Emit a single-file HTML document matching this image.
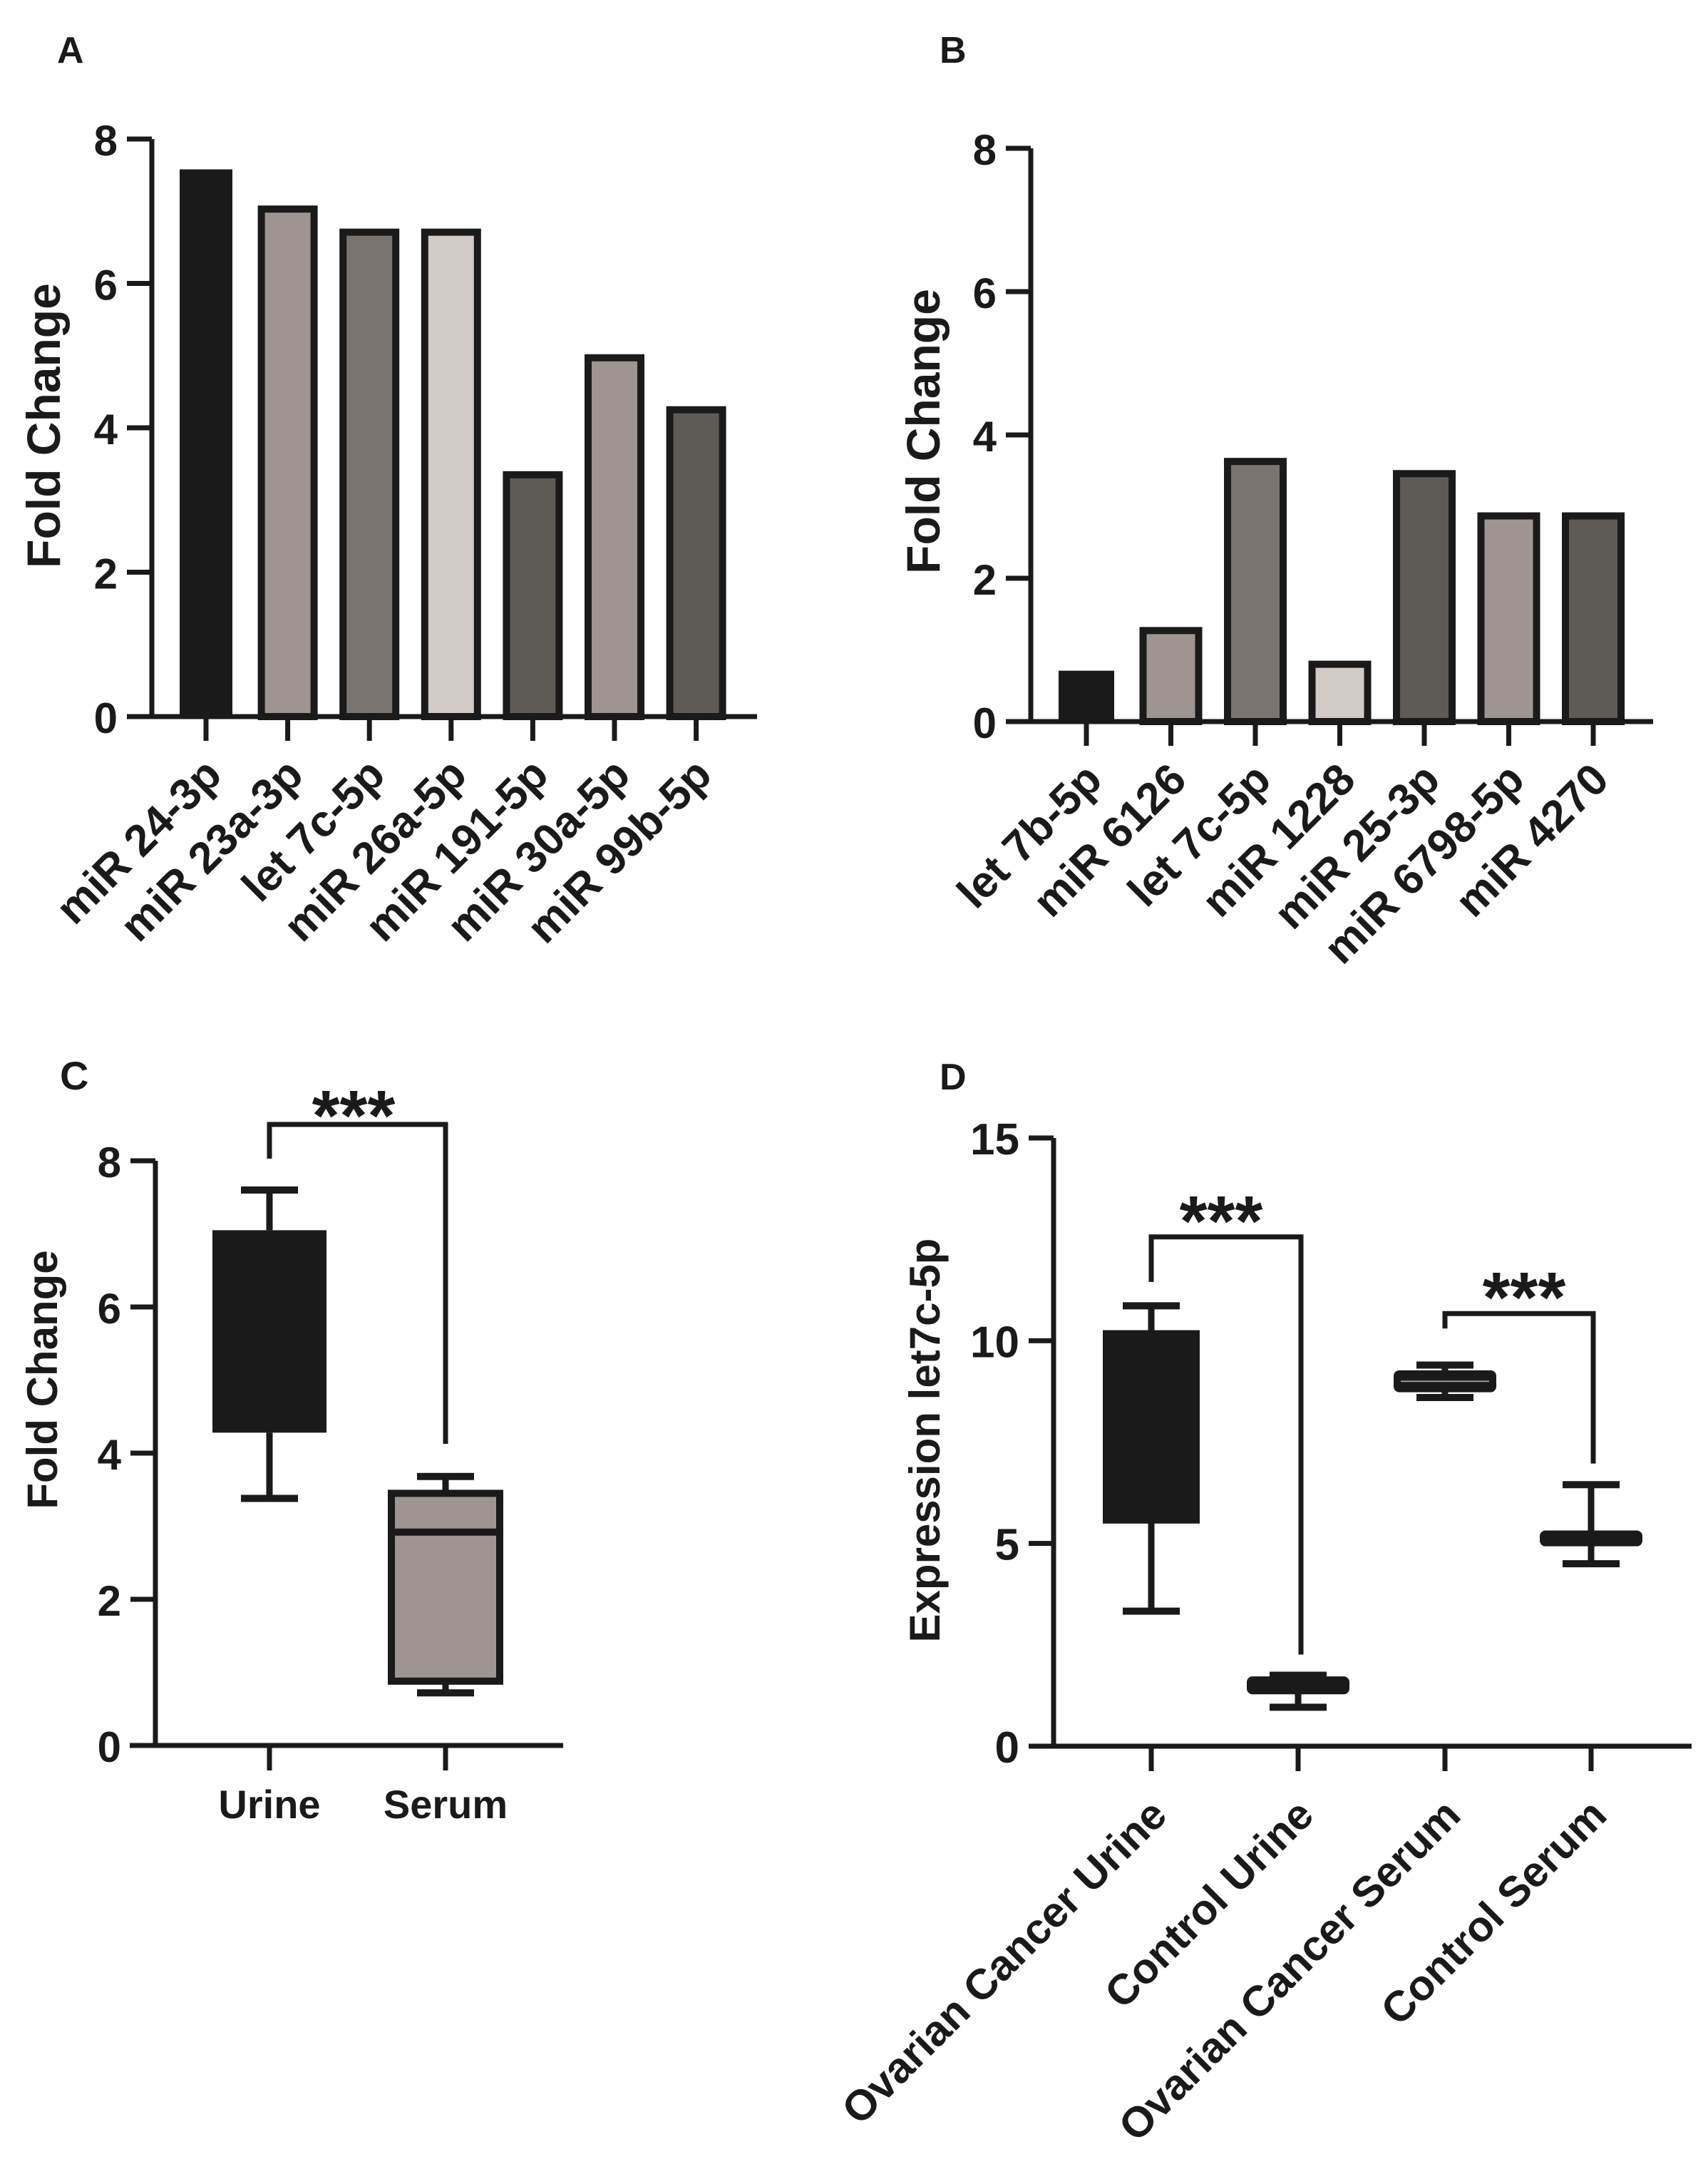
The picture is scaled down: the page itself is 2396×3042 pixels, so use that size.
<!DOCTYPE html>
<html><head><meta charset="utf-8"><style>
html,body{margin:0;padding:0;background:#fff}
svg{display:block;font-family:"Liberation Sans",Arial,sans-serif}
</style></head><body>
<svg id="s" width="2396" height="3042" viewBox="0 0 2396 3042" xmlns="http://www.w3.org/2000/svg"></svg>
<script>
const aCats=["miR 24-3p","miR 23a-3p","let 7c-5p","miR 26a-5p","miR 191-5p","miR 30a-5p","miR 99b-5p"];
const aVals=[7.58,7.03,6.71,6.71,3.35,4.97,4.25];
const aFills=["#1a1a1a","#9e9593","#7a7471","#d1cac6","#5e5a56","#9e9593","#5e5a56"];
const bCats=["let 7b-5p","miR 6126","let 7c-5p","miR 1228","miR 25-3p","miR 6798-5p","miR 4270"];
const bVals=[0.71,1.27,3.63,0.8,3.46,2.87,2.87];
const bFills=["#1a1a1a","#9e9593","#7a7471","#d1cac6","#5e5a56","#9e9593","#5e5a56"];
const yTicks8=[0,2,4,6,8];
const cCats=["Urine","Serum"];
const cMin=[3.38,0.72],cQ1=[4.28,0.88],cMed=[5.6,2.92],cQ3=[7.05,3.45],cMax=[7.6,3.68];
const dCats=["Ovarian Cancer Urine","Control Urine","Ovarian Cancer Serum","Control Serum"];
const dMin=[3.33,0.96,8.6,4.5],dQ1=[5.49,1.35,8.8,5.0],dMed=[7.5,1.5,9.0,5.1],dQ3=[10.26,1.65,9.2,5.25],dMax=[10.86,1.75,9.4,6.45];
const dTicks=[0,5,10,15];

const S=document.getElementById('s');
const NS="http://www.w3.org/2000/svg";
function mk(tag,at,name,txt){const e=document.createElementNS(NS,tag);for(const k in at)e.setAttribute(k,at[k]);


if(txt!==undefined)e.textContent=txt;S.appendChild(e);return e;}
function line(x1,y1,x2,y2,w,name){return mk('line',{x1,y1,x2,y2,stroke:'#1a1a1a','stroke-width':w},name);}

function axes(ax,x0,x1,y0,yTop,ticks,vmax,fs,title,titleX,titleY,titleFs,prefix,xsTicks,tickBottom){
  const y=v=>y0-(y0-yTop)*v/vmax;
  line(ax,yTop,ax,y0+3.5,7,prefix+'-y-axis');
  line(x0,y0,x1,y0,7,prefix+'-x-axis');
  ticks.forEach(t=>{line(ax-35,y(t),ax,y(t),7,prefix+'-y-tick');
    mk('text',{x:ax-48,y:y(t)+23,'text-anchor':'end','font-size':fs,'font-weight':'bold',fill:'#1a1a1a'},prefix+'-y-tick-label',String(t));});
  xsTicks.forEach(x=>line(x,y0,x,tickBottom,7,prefix+'-x-tick'));
  mk('text',{x:titleX,y:titleY,'text-anchor':'middle','font-size':titleFs,'font-weight':'bold',fill:'#1a1a1a',transform:`rotate(-90 ${titleX} ${titleY})`},prefix+'-y-axis-title',title);
  return y;
}
function rotLabels(cats,xs,y0,fs,dx,dy,prefix){
  cats.forEach((c,i)=>{const X=xs[i]+dx,Y=y0+dy;
    mk('text',{x:X,y:Y,'text-anchor':'end','font-size':fs,'font-weight':'bold',fill:'#1a1a1a',transform:`rotate(-45 ${X} ${Y})`},prefix+'-x-label',c);});
}
function bars(cats,vals,fills,ax,y0,yTop,xs,bw,prefix,x0,x1,tx,ty){
  const y=axes(ax,x0,x1,y0,yTop,yTicks8,8,60,"Fold Change",tx,ty,66,prefix,xs,y0+34);
  vals.forEach((v,i)=>{
    mk('rect',{x:xs[i]-bw/2,y:y(v),width:bw,height:y0-y(v),fill:fills[i],stroke:'#1a1a1a','stroke-width':i===0?0:10},'bar-'+cats[i].replace(/\s+/g,'-'));
  });
  rotLabels(cats,xs,y0,62,25,85,prefix);
}
function stars(x,bracketY,name){
  mk('text',{x:x,y:bracketY+12,'text-anchor':'middle','font-size':100,'font-weight':'bold',fill:'#1a1a1a'},name,'***');
}
// Panel labels
mk('text',{x:80,y:88,'font-size':52,'font-weight':'bold',fill:'#1a1a1a'},'panel-label-a','A');
mk('text',{x:1318,y:88,'font-size':52,'font-weight':'bold',fill:'#1a1a1a'},'panel-label-b','B');
mk('text',{x:84,y:1528,'font-size':56,'font-weight':'bold',fill:'#1a1a1a'},'panel-label-c','C');
mk('text',{x:1318,y:1528,'font-size':52,'font-weight':'bold',fill:'#1a1a1a'},'panel-label-d','D');

// A
const aX0=289,aStep=114.6;
bars(aCats,aVals,aFills,213,1005,195,aCats.map((c,i)=>aX0+i*aStep),74,'a',181,1062,84,597);
// B
const bX0=1524,bStep=118.5;
bars(bCats,bVals,bFills,1446,1012,208,bCats.map((c,i)=>bX0+i*bStep),78,'b',1412,2319,1318,605);

// C
(function(){
  const xs=[378,625];
  const y=axes(218,182,790,2448,1628,yTicks8,8,60,"Fold Change",80,1935,60,'c',xs,2483);
  const fills=["#1a1a1a","#9e9593"];
  cCats.forEach((c,i)=>{
    const x=xs[i],hw=i===0?80:76;
    line(x,y(cMax[i]),x,y(cQ3[i]),9,'c-whisker-upper');
    line(x,y(cQ1[i]),x,y(cMin[i]),9,'c-whisker-lower');
    line(x-40,y(cMax[i]),x+40,y(cMax[i]),10,'c-whisker-cap');
    line(x-40,y(cMin[i]),x+40,y(cMin[i]),10,'c-whisker-cap');
    mk('rect',{x:x-hw,y:y(cQ3[i]),width:2*hw,height:y(cQ1[i])-y(cQ3[i]),fill:fills[i],stroke:'#1a1a1a','stroke-width':i===0?0:10},'c-box-'+c);
    if(i===1) line(x-hw,y(cMed[i]),x+hw,y(cMed[i]),10,'c-median');
    mk('text',{x:x,y:2550,'text-anchor':'middle','font-size':56,'font-weight':'bold',fill:'#1a1a1a'},'c-x-label',c);
  });
  mk('path',{d:`M378 1625 V1577 H625 V2025`,fill:'none',stroke:'#1a1a1a','stroke-width':7},'c-significance-bracket');
  stars(496,1577+10,'c-significance-stars');
})();

// D
(function(){
  const xs=[1615,1821,2027,2232];
  const y=axes(1478,1443,2373,2449,1596,dTicks,15,62,"Expression let7c-5p",1318,2020,60,'d',xs,2484);
  dCats.forEach((c,i)=>{
    const x=xs[i],hw=68;
    line(x,y(dMax[i]),x,y(dMin[i]),9,'d-whisker');
    line(x-40,y(dMax[i]),x+40,y(dMax[i]),10,'d-whisker-cap');
    line(x-40,y(dMin[i]),x+40,y(dMin[i]),10,'d-whisker-cap');
    mk('rect',{x:x-hw,y:y(dQ3[i]),width:2*hw,height:Math.max(y(dQ1[i])-y(dQ3[i]),6),fill:'#1a1a1a',stroke:'#1a1a1a','stroke-width':i===0?0:8,rx:i===0?0:4},'d-box-'+c.replace(/\s+/g,'-'));
    if(i===2) line(x-hw+6,y(dMed[i]),x+hw-6,y(dMed[i]),2,'d-median').setAttribute('stroke','#9e9593');
  });
  rotLabels(dCats,xs,2449,60,25,100,'d');
  const yv=v=>y(v);
  mk('path',{d:`M1615 ${yv(11.45)} V${yv(12.56)} H1825 V${yv(2.26)}`,fill:'none',stroke:'#1a1a1a','stroke-width':7},'d-bracket-urine');
  stars(1713,yv(12.56),'d-stars-urine');
  mk('path',{d:`M2027 ${yv(10.3)} V${yv(10.67)} H2235 V${yv(6.97)}`,fill:'none',stroke:'#1a1a1a','stroke-width':7},'d-bracket-serum');
  stars(2138,yv(10.67),'d-stars-serum');
})();
</script>
</body></html>
